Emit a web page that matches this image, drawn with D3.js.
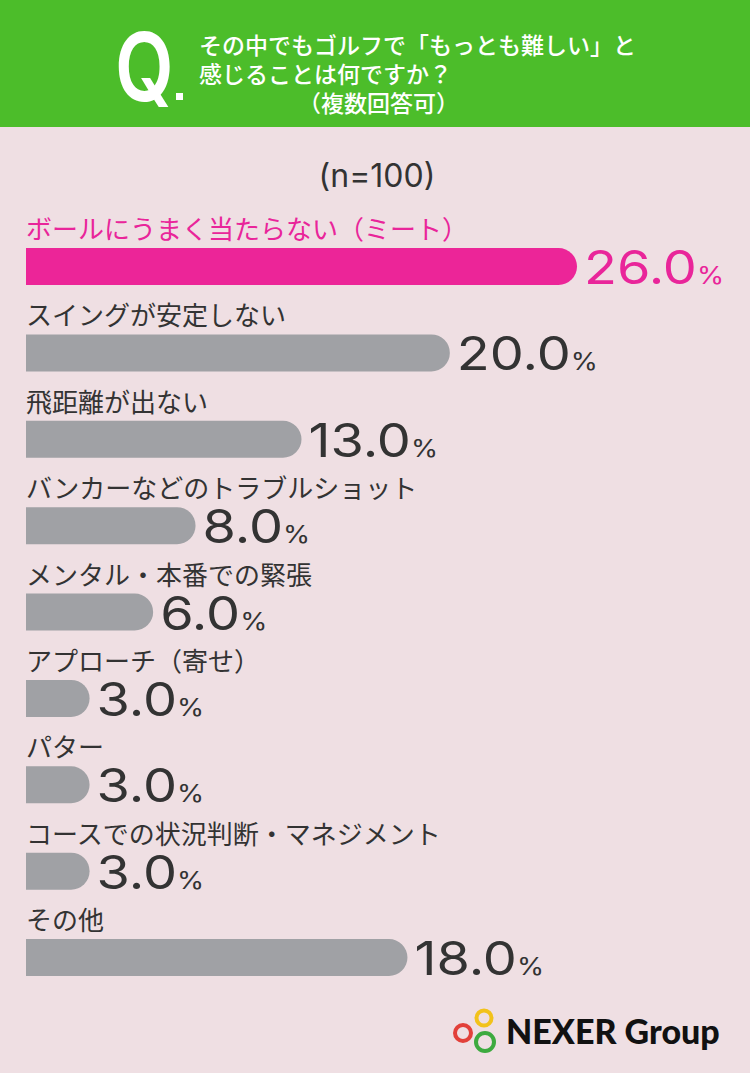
<!DOCTYPE html>
<html>
<head>
<meta charset="utf-8">
<script src="https://cdn.jsdelivr.net/npm/d3@7"></script>
<style>
  html, body { margin: 0; padding: 0; background: #efdfe3; }
  svg { display: block; }
</style>
</head>
<body>
<svg id="chart"></svg>
<script>
// survey data
var categories = [
  "ボールにうまく当たらない（ミート）",
  "スイングが安定しない",
  "飛距離が出ない",
  "バンカーなどのトラブルショット",
  "メンタル・本番での緊張",
  "アプローチ（寄せ）",
  "パター",
  "コースでの状況判断・マネジメント",
  "その他"
];
var values = [26.0, 20.0, 13.0, 8.0, 6.0, 3.0, 3.0, 3.0, 18.0];
var titleLines = [
  "その中でもゴルフで「もっとも難しい」と",
  "感じることは何ですか？",
  "（複数回答可）"
];
var sampleLabel = "(n=100)";

var width = 750;
var height = 1073;
var barHeight = 37;
var jpFont = "'Noto Sans CJK JP', 'Noto Sans', sans-serif";
var numFont = "Inter, 'Noto Sans', sans-serif";

var svg = d3.select("#chart")
  .attr("width", width)
  .attr("height", height);

svg.append("rect")
  .attr("width", width)
  .attr("height", height)
  .attr("fill", "#efdfe3");

// header band
svg.append("rect")
  .attr("width", width)
  .attr("height", 127)
  .attr("fill", "#4cbd2a");

// condensed Q
svg.append("text")
  .attr("transform", "translate(115,101) scale(0.8,1)")
  .attr("font-family", numFont)
  .attr("font-weight", 600)
  .attr("font-size", 95)
  .attr("fill", "#fff")
  .text("Q");
svg.append("rect")
  .attr("x", 176)
  .attr("y", 93)
  .attr("width", 7)
  .attr("height", 7)
  .attr("fill", "#fff");

var titleX = [199, 199, 298];
svg.selectAll("text.title")
  .data(titleLines)
  .enter().append("text")
  .attr("class", "title")
  .attr("x", function (d, i) { return titleX[i]; })
  .attr("y", function (d, i) { return 54 + i * 29; })
  .attr("font-family", jpFont)
  .attr("font-weight", 500)
  .attr("font-size", 23)
  .attr("fill", "#fff")
  .text(function (d) { return d; });

svg.append("text")
  .attr("x", 377)
  .attr("y", 187)
  .attr("text-anchor", "middle")
  .attr("font-family", numFont)
  .attr("font-size", 32)
  .attr("fill", "#333")
  .text(sampleLabel);

// scales
var x = d3.scaleLinear().domain([0, 26]).range([26, 577]);
var y = d3.scalePoint().domain(categories).range([248, 939]);

function barPath(v, top) {
  var x0 = x(0), x1 = x(v), r = barHeight / 2;
  return "M" + x0 + "," + top +
    "H" + (x1 - r) +
    "A" + r + "," + r + " 0 0 1 " + (x1 - r) + "," + (top + barHeight) +
    "H" + x0 + "Z";
}

var rows = svg.selectAll("g.row")
  .data(categories)
  .enter().append("g")
  .attr("class", "row");

rows.append("text")
  .attr("x", x(0))
  .attr("y", function (d) { return y(d) - 9; })
  .attr("font-family", jpFont)
  .attr("font-size", 26)
  .attr("fill", function (d, i) { return i === 0 ? "#e9259a" : "#333"; })
  .text(function (d) { return d; });

rows.append("path")
  .attr("d", function (d, i) { return barPath(values[i], y(d)); })
  .attr("fill", function (d, i) { return i === 0 ? "#ec2598" : "#a0a1a5"; });

// value labels, widened to match the rounded display face
var vt = rows.append("text")
  .attr("transform", function (d, i) {
    return "translate(" + (x(values[i]) + 7) + "," + (y(d) + barHeight - 1) + ") scale(1.15,1)";
  })
  .attr("font-family", numFont)
  .attr("fill", function (d, i) { return i === 0 ? "#e9259a" : "#333"; });
vt.append("tspan")
  .attr("font-size", 47)
  .attr("font-weight", 400)
  .text(function (d, i) { return values[i].toFixed(1); });
vt.append("tspan")
  .attr("font-size", 24)
  .text("%");

// logo
var rings = [
  { cx: 484, cy: 1018, r: 7.5, c: "#f2c21b" },
  { cx: 463, cy: 1033, r: 8, c: "#e2403a" },
  { cx: 485, cy: 1042, r: 9, c: "#3daa3f" }
];
svg.selectAll("circle.ring")
  .data(rings)
  .enter().append("circle")
  .attr("class", "ring")
  .attr("cx", function (d) { return d.cx; })
  .attr("cy", function (d) { return d.cy; })
  .attr("r", function (d) { return d.r; })
  .attr("fill", "none")
  .attr("stroke", function (d) { return d.c; })
  .attr("stroke-width", 4);

svg.append("text")
  .attr("x", 506)
  .attr("y", 1044)
  .attr("font-family", "Lato, 'Noto Sans', sans-serif")
  .attr("font-weight", 900)
  .attr("font-size", 34)
  .attr("fill", "#111")
  .text("NEXER Group");
</script>
</body>
</html>
